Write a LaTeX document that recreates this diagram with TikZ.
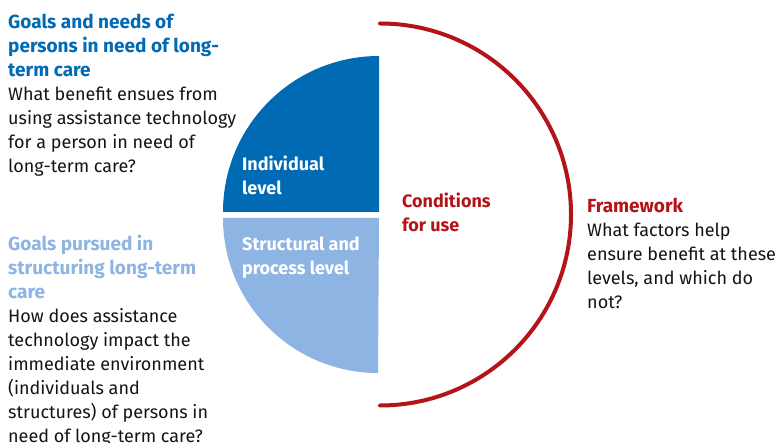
\documentclass[tikz,border=0pt]{standalone}
\usepackage{fontspec}
\setmainfont{Fira Sans}
\definecolor{dblue}{RGB}{0,106,180}
\definecolor{lblue}{RGB}{141,180,226}
\definecolor{dred}{RGB}{180,20,25}
\definecolor{txt}{RGB}{20,20,20}
\newcommand{\hd}[2]{{\fontsize{19}{24}\selectfont\bfseries\color{#1}#2}}
\begin{document}
\begin{tikzpicture}[x=1pt,y=1pt,
  txtblock/.style={anchor=north west,inner sep=0pt,align=left,font=\fontsize{18}{24}\selectfont,text=txt},
  lbl/.style={anchor=north west,inner sep=0pt,align=left,font=\fontsize{18}{24}\selectfont\bfseries}]
\useasboundingbox (0,0) rectangle (778,443);
\fill[dblue] (379,231) -- (223,231) arc[start angle=180,end angle=90,radius=156] -- cycle;
\fill[lblue] (379,225) -- (223,225) arc[start angle=180,end angle=270,radius=155] -- cycle;
\draw[dred,line width=4pt,line cap=round] (380,419.5) arc[start angle=90,end angle=-90,radius=191];
\node[lbl,text=white] (ind) at (242,289.8) {\strut Individual\\level};
\node[lbl,text=white] (str) at (242,209.8) {\strut Structural and\\process level};
\node[lbl,text=dred] (cond) at (402,252.8) {\strut Conditions\\for use};
\node[txtblock] (b1) at (8,431.8) {\strut\hd{dblue}{Goals and needs of}\\\hd{dblue}{persons in need of long-}\\\hd{dblue}{term care}\\What benefit ensues from\\using assistance technology\\for a person in need of\\long-term care?};
\node[txtblock] (b2) at (8,209.8) {\strut\hd{lblue}{Goals pursued in}\\\hd{lblue}{structuring long-term}\\\hd{lblue}{care}\\How does assistance\\technology impact the\\immediate environment\\(individuals and\\structures) of persons in\\need of long-term care?};
\node[txtblock] (b3) at (587,247.8) {\strut\hd{dred}{Framework}\\What factors help\\ensure benefit at these\\levels, and which do\\not?};
\end{tikzpicture}
\end{document}
